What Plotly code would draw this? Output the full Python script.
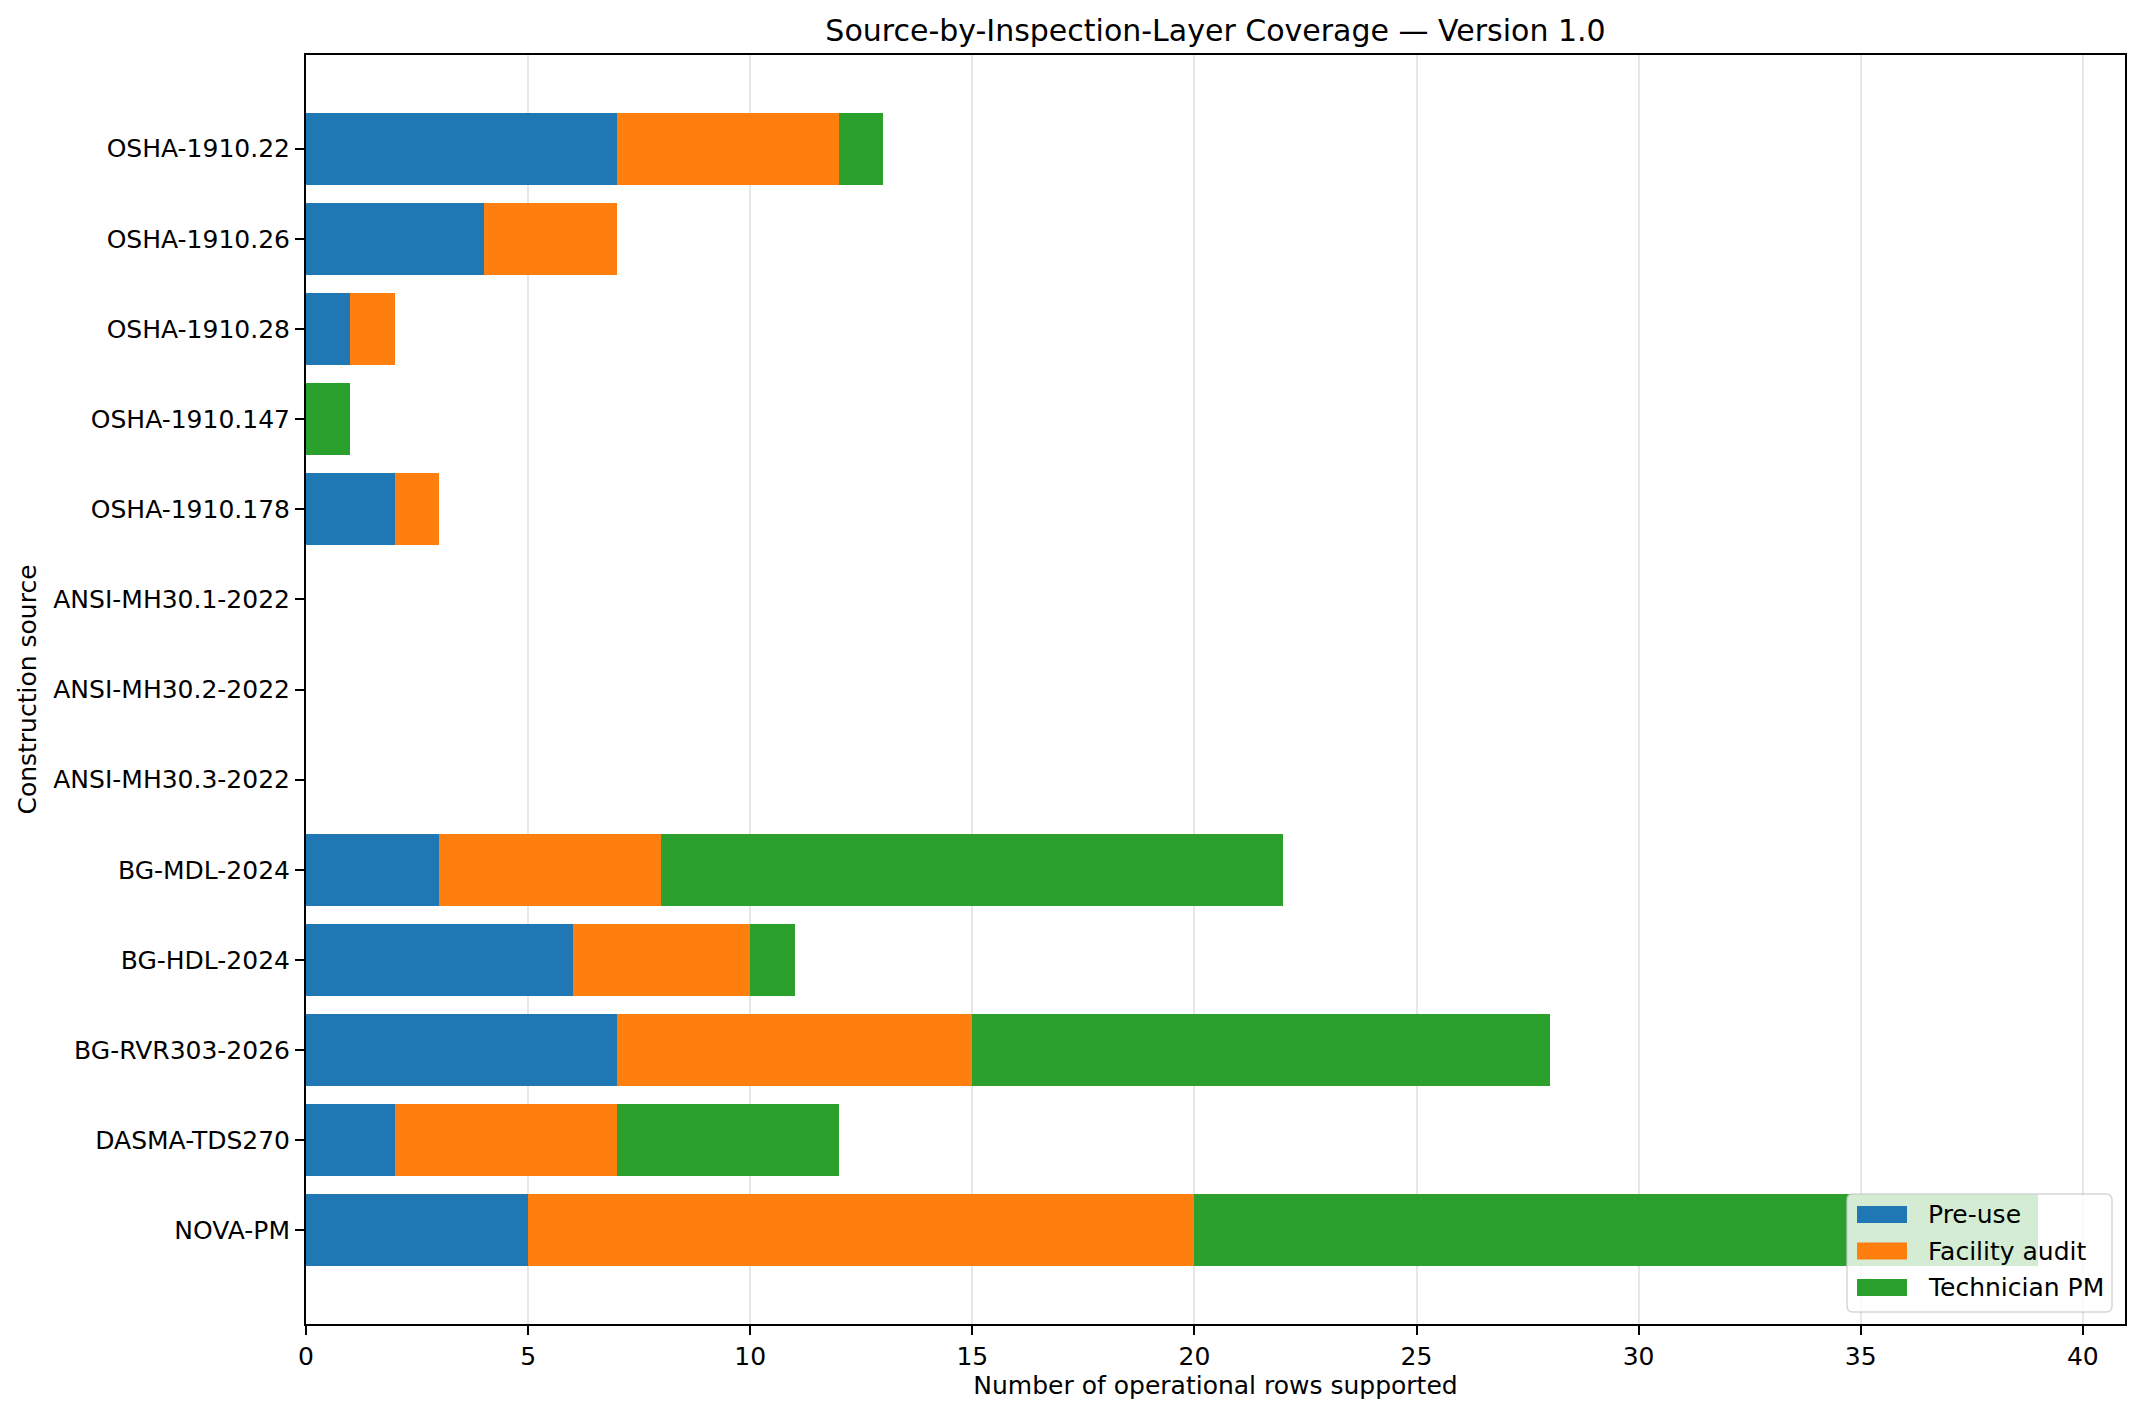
import plotly.graph_objects as go

sources = ["OSHA-1910.22", "OSHA-1910.26", "OSHA-1910.28", "OSHA-1910.147", "OSHA-1910.178",
           "ANSI-MH30.1-2022", "ANSI-MH30.2-2022", "ANSI-MH30.3-2022",
           "BG-MDL-2024", "BG-HDL-2024", "BG-RVR303-2026", "DASMA-TDS270", "NOVA-PM"]
pre_use = [7, 4, 1, 0, 2, 0, 0, 0, 3, 6, 7, 2, 5]
facility_audit = [5, 3, 1, 0, 1, 0, 0, 0, 5, 4, 8, 5, 15]
technician_pm = [1, 0, 0, 1, 0, 0, 0, 0, 14, 1, 13, 5, 19]

series_names = ["Pre-use", "Facility audit", "Technician PM"]
series_colors = ["#1f77b4", "#ff7f0e", "#2ca02c"]
series_values = [pre_use, facility_audit, technician_pm]

FONT = "DejaVu Sans"
FS = 25
W, H = 2143, 1417
L, R, T, B = 306, 18, 55, 93
PW, PH = W - L - R, H - T - B


def px(xp):
    return (xp - L) / PW


def py(yp):
    return (H - B - yp) / PH


fig = go.Figure()
for name, vals, col in zip(series_names, series_values, series_colors):
    fig.add_trace(go.Bar(y=sources, x=vals, name=name, orientation="h", showlegend=False,
                         marker=dict(color=col, line=dict(width=0))))

n = len(sources)
totals = [a + b + c for a, b, c in zip(pre_use, facility_audit, technician_pm)]
xmax = max(totals) * 1.05
pad = 0.4 + 0.05 * (n - 1 + 0.8)

# manual legend (matplotlib style: rounded frame, wide swatches)
bx0, bx1, by0, by1, rad = 1847, 2112, 1194, 1312, 6
rx, ry = rad / PW, rad / PH
X0, X1, Y0, Y1 = px(bx0), px(bx1), py(by1), py(by0)
path = (f"M {X0+rx},{Y0} L {X1-rx},{Y0} Q {X1},{Y0} {X1},{Y0+ry} "
        f"L {X1},{Y1-ry} Q {X1},{Y1} {X1-rx},{Y1} L {X0+rx},{Y1} "
        f"Q {X0},{Y1} {X0},{Y1-ry} L {X0},{Y0+ry} Q {X0},{Y0} {X0+rx},{Y0} Z")
shapes = [dict(type="path", path=path, xref="paper", yref="paper",
               fillcolor="rgba(255,255,255,0.8)", line=dict(color="rgba(204,204,204,0.8)", width=1.5),
               layer="above")]
annotations = []
row_centers = [1214.5, 1251, 1287.5]
for name, col, yc in zip(series_names, series_colors, row_centers):
    shapes.append(dict(type="rect", xref="paper", yref="paper",
                       x0=px(1857), x1=px(1907), y0=py(yc + 8.5), y1=py(yc - 8.5),
                       fillcolor=col, line=dict(width=0), layer="above"))
    annotations.append(dict(text=name, xref="paper", yref="paper", x=px(1926), y=py(yc),
                            xanchor="left", yanchor="middle", showarrow=False,
                            font=dict(size=FS, family=FONT, color="black")))

fig.update_layout(
    width=W, height=H, barmode="stack", bargap=0.2, showlegend=False,
    margin=dict(l=L, r=R, t=T, b=B, autoexpand=False),
    paper_bgcolor="white", plot_bgcolor="white",
    font=dict(family=FONT, size=FS, color="black"),
    title=dict(text="Source-by-Inspection-Layer Coverage — Version 1.0",
               x=(L + (W - R)) / 2 / W, xanchor="center", y=1 - 30 / H, yanchor="middle",
               font=dict(size=30, family=FONT, color="black")),
    shapes=shapes, annotations=annotations,
    xaxis=dict(range=[0, xmax], tickvals=list(range(0, 45, 5)),
               showgrid=True, gridcolor="rgba(176,176,176,0.3)", gridwidth=1.5,
               layer="above traces",
               showline=True, linecolor="black", linewidth=2, mirror=True,
               ticks="outside", ticklen=9, tickwidth=2, tickcolor="black",
               zeroline=False,
               title=dict(text="Number of operational rows supported", standoff=6,
                          font=dict(size=FS, family=FONT))),
    yaxis=dict(type="category", categoryorder="array", categoryarray=sources,
               range=[n - 1 + pad, -pad], showgrid=False,
               showline=True, linecolor="black", linewidth=2, mirror=True,
               ticks="outside", ticklen=9, tickwidth=2, tickcolor="black",
               title=dict(text="Construction source", standoff=10,
                          font=dict(size=FS, family=FONT))),
)

fig.write_html("out.html")
